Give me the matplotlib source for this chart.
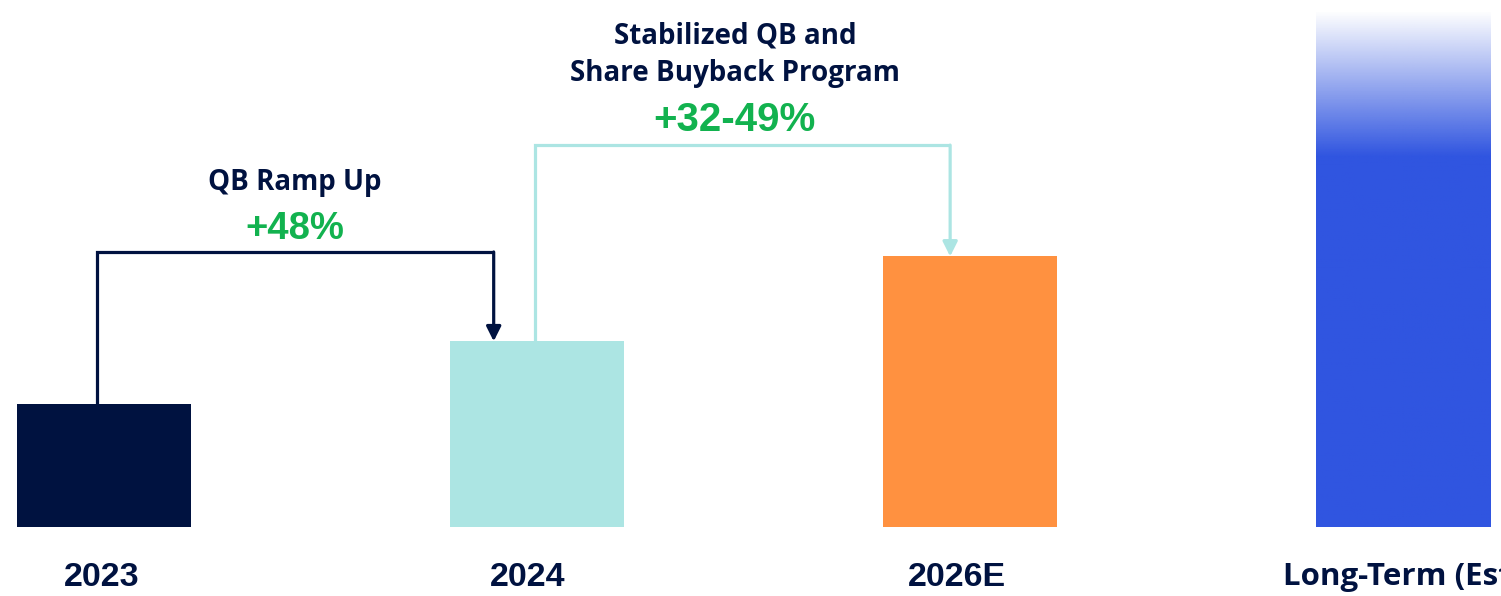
import numpy as np
import matplotlib
matplotlib.use("Agg")
import matplotlib.pyplot as plt

# data (relative index, 2023 = 1.0)
categories = ["2023", "2024", "2026E", "Long-Term (Est.)"]
values = [1.0, 1.51, 2.2, 4.2]
colors = ["#001240", "#ACE5E3", "#FF9140", "#3055E0"]
step_titles = ["QB Ramp Up", "Stabilized QB and\nShare Buyback Program"]
step_growth = ["+48%", "+32-49%"]

NAVY = "#001240"
GREEN = "#12B24F"
TEAL = "#ACE5E3"
TXT_FONT = "Open Sans"
NUM_FONT = "Liberation Sans"

fig = plt.figure(figsize=(15.01, 5.96), dpi=100)
ax = fig.add_axes([0, 0, 1, 1])
ax.set_xlim(-0.240, 3.226)
ax.set_ylim(-0.561, 4.285)
ax.axis("off")

x = np.arange(len(categories))
bars = ax.bar(x, values, width=0.402, color=colors[:3] + ["none"], linewidth=0)

# gradient on the long-term bar: white at top, solid blue lower down
lt = bars[3]
x0, w, h = lt.get_x(), lt.get_width(), lt.get_height()
n = 256
rgb = matplotlib.colors.to_rgb(colors[3])
grad = np.zeros((n, 1, 4))
grad[:, 0, :3] = rgb
yy = np.linspace(h, 0, n)
fade_top, fade_bot = h, h - 1.18
grad[:, 0, 3] = np.clip((fade_top - yy) / (fade_top - fade_bot), 0, 1)
im = ax.imshow(grad, extent=[x0, x0 + w, 0, h], aspect="auto", zorder=2)
im.set_clip_path(lt)

# connector 1: 2023 -> 2024
y1 = 2.236
ax.plot([x[0] - 0.016, x[0] - 0.016, x[1] - 0.10], [values[0], y1, y1],
        color=NAVY, lw=2.3, solid_joinstyle="miter", solid_capstyle="butt")
ax.annotate("", xy=(x[1] - 0.10, values[1]), xytext=(x[1] - 0.10, y1),
            arrowprops=dict(arrowstyle="-|>", color=NAVY, lw=2.3,
                            mutation_scale=22, shrinkA=0, shrinkB=0))

# connector 2: 2024 -> 2026E
y2 = 3.105
ax.plot([x[1] - 0.005, x[1] - 0.005, x[2] - 0.046], [values[1], y2, y2],
        color=TEAL, lw=2.3, solid_joinstyle="miter", solid_capstyle="butt")
ax.annotate("", xy=(x[2] - 0.046, values[2]), xytext=(x[2] - 0.046, y2),
            arrowprops=dict(arrowstyle="-|>", color=TEAL, lw=2.3,
                            mutation_scale=22, shrinkA=0, shrinkB=0))

# step annotations
ax.text(0.441, 2.80, step_titles[0], ha="center", va="center", fontsize=20,
        fontweight="bold", color=NAVY, family=TXT_FONT)
ax.text(0.441, 2.42, step_growth[0], ha="center", va="center", fontsize=27.5,
        fontweight="bold", color=GREEN, family=NUM_FONT)
ax.text(1.457, 3.84, step_titles[1], ha="center", va="center", fontsize=20,
        fontweight="bold", color=NAVY, family=TXT_FONT, linespacing=1.35)
ax.text(1.457, 3.31, step_growth[1], ha="center", va="center", fontsize=29,
        fontweight="bold", color=GREEN, family=NUM_FONT)

# category labels
label_y = -0.41
label_dx = [-0.005, -0.021, -0.03]
for i in range(3):
    ax.text(x[i] + label_dx[i], label_y, categories[i], ha="center", va="center",
            fontsize=24.5, fontweight="bold", color=NAVY, family=NUM_FONT)
ax.text(2.722, label_y, categories[3], ha="left", va="center", fontsize=22.5,
        fontweight="bold", color=NAVY, family=TXT_FONT)

fig.savefig("out.png", dpi=100, facecolor="white")
